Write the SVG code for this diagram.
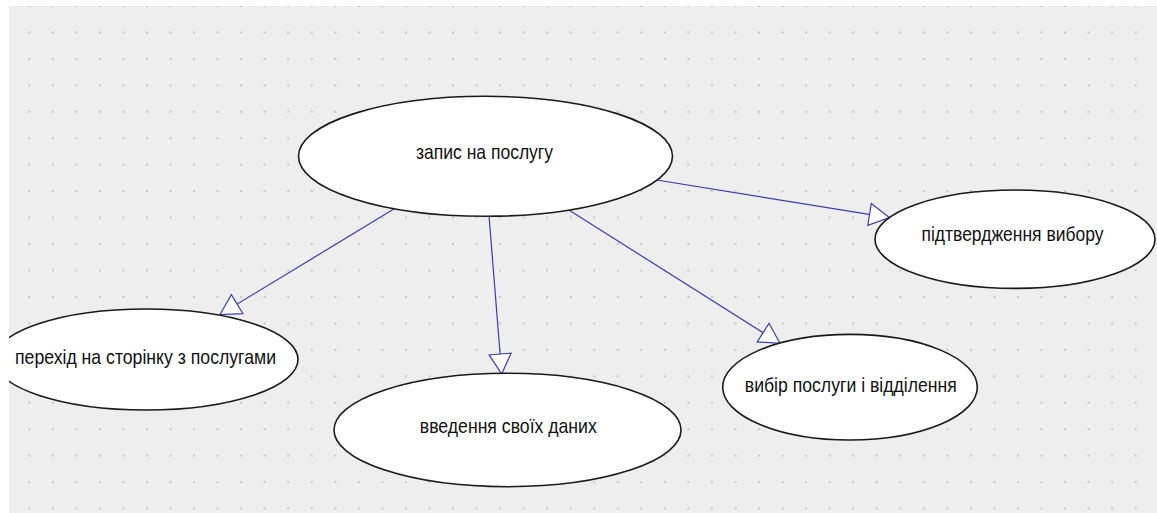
<svg xmlns="http://www.w3.org/2000/svg" width="1157" height="513" viewBox="0 0 1157 513">
  <style>
    .node ellipse { fill: #ffffff; stroke: #1a1a1a; stroke-width: 1.6; }
    .node text { font-family: "Liberation Sans", Arial, sans-serif; font-size: 21px; fill: #111111; text-anchor: middle; }
    .edge { stroke: #3c3cb0; stroke-width: 1.2; fill: none; marker-end: url(#tri); }
  </style>
  <defs>
    <pattern id="grid" patternUnits="userSpaceOnUse" x="28.3" y="5" width="23.54" height="26.45">
      <rect x="0" y="0" width="2" height="2" fill="#c6c6c6"/>
    </pattern>
    <clipPath id="canvas">
      <rect x="9" y="6" width="1148" height="507"/>
    </clipPath>
    <marker id="tri" viewBox="-2 -2 24 26" markerWidth="24" markerHeight="26" refX="20" refY="11" orient="auto" markerUnits="userSpaceOnUse">
      <path d="M0,0 L20,11 L0,22 Z" fill="#ffffff" stroke="#3c3cb0" stroke-width="1.2"/>
    </marker>
  </defs>
  <rect x="0" y="0" width="1157" height="513" fill="#ffffff"/>
  <rect x="9" y="6" width="1148" height="507" fill="#eeeeee"/>
  <rect x="9" y="6" width="1148" height="507" fill="url(#grid)"/>
  <g clip-path="url(#canvas)">
    <g id="connectors">
      <line class="edge" x1="396.7" y1="207.3" x2="220" y2="314.5"/>
      <line class="edge" x1="489" y1="215.5" x2="501.7" y2="374"/>
      <line class="edge" x1="567.7" y1="209.3" x2="780" y2="343.3"/>
      <line class="edge" x1="656.7" y1="180" x2="889.3" y2="217.6"/>
    </g>
    <g id="node-zapys" class="node">
      <ellipse cx="485.5" cy="156.3" rx="187" ry="60"/>
      <text x="484.5" y="159" textLength="137" lengthAdjust="spacingAndGlyphs">запис на послугу</text>
    </g>
    <g id="node-perekhid" class="node">
      <ellipse cx="146" cy="359.5" rx="152" ry="50.5"/>
      <text x="145.5" y="364" textLength="261" lengthAdjust="spacingAndGlyphs">перехід на сторінку з послугами</text>
    </g>
    <g id="node-vvedennia" class="node">
      <ellipse cx="507.5" cy="430" rx="173.5" ry="56.7"/>
      <text x="508.3" y="433.3" textLength="177" lengthAdjust="spacingAndGlyphs">введення своїх даних</text>
    </g>
    <g id="node-vybir" class="node">
      <ellipse cx="850" cy="387.2" rx="127.3" ry="52.8"/>
      <text x="850.8" y="391.7" textLength="212" lengthAdjust="spacingAndGlyphs">вибір послуги і відділення</text>
    </g>
    <g id="node-pidtverdzhennia" class="node">
      <ellipse cx="1015" cy="239.2" rx="140" ry="49.2"/>
      <text x="1012.5" y="240.5" textLength="182" lengthAdjust="spacingAndGlyphs">підтвердження вибору</text>
    </g>
  </g>
</svg>
